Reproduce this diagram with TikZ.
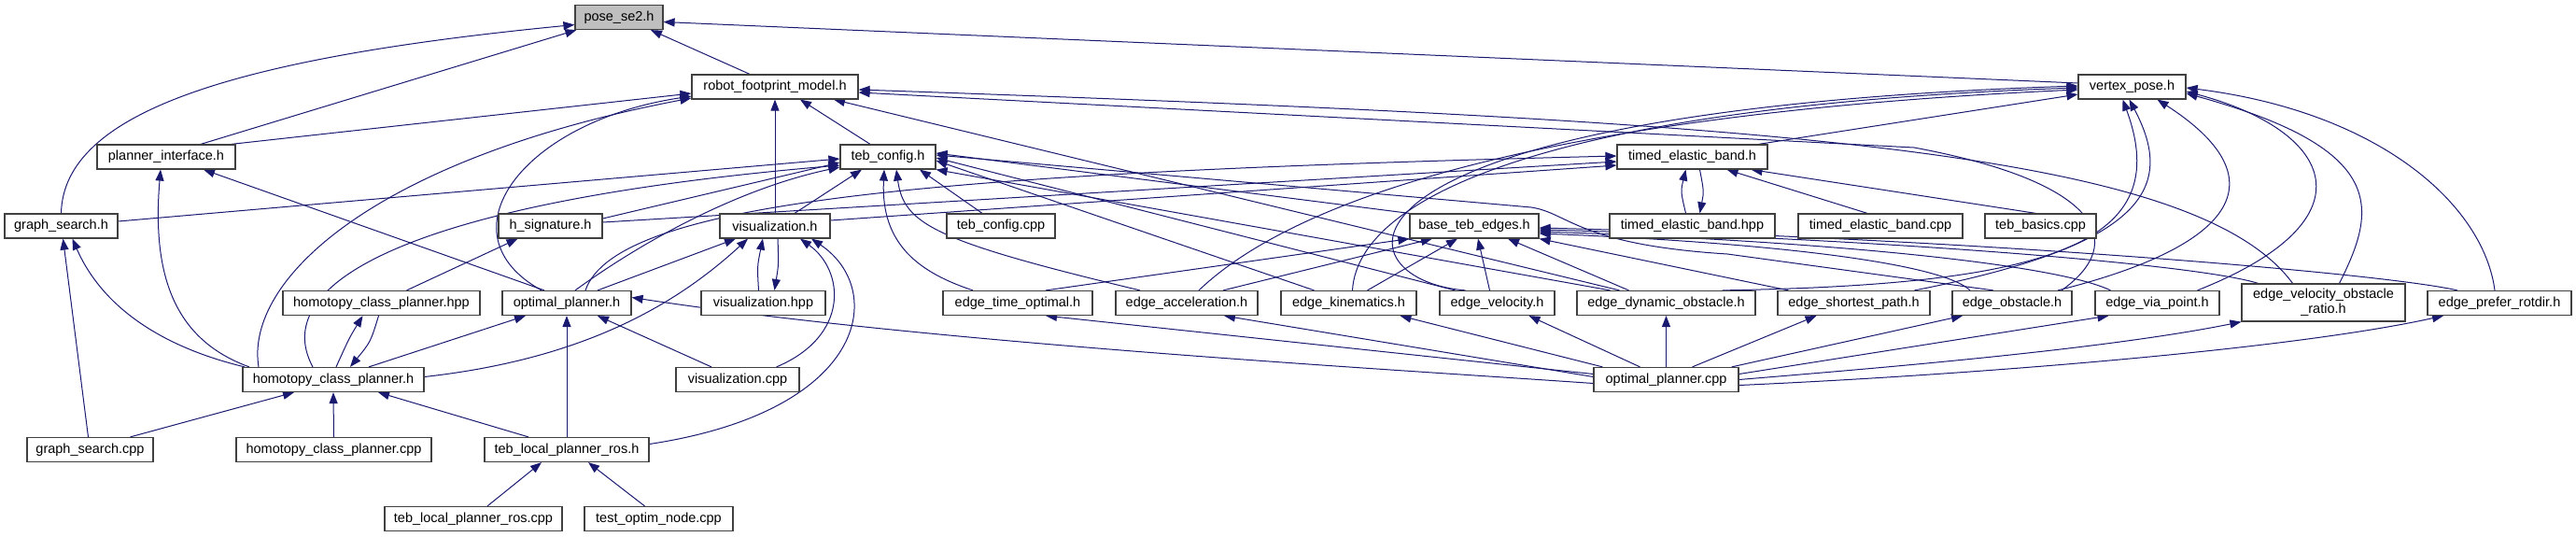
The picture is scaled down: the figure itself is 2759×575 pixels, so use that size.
\documentclass[tikz,border=0pt]{standalone}
\usepackage{fontspec}
\setmainfont{Liberation Sans}
\usetikzlibrary{arrows.meta,backgrounds}
\definecolor{edgeblue}{HTML}{191970}
\definecolor{boxline}{HTML}{404040}
\definecolor{rootfill}{HTML}{BFBFBF}
\tikzset{
  file/.style={draw=boxline,line width=1.2pt,fill=white,inner sep=0pt,minimum height=26pt,font=\fontsize{14.5}{16}\selectfont},
  dep/.style={draw=edgeblue,line width=1pt,{Triangle[length=12pt,width=9pt]}-}
}
\begin{document}
\begin{tikzpicture}[x=1pt,y=-1pt]
\useasboundingbox (0,0) rectangle (2759,575);

\node[file,fill=rootfill,minimum width=94pt] (pose) at (663,18.5) {pose\_se2.h};
\foreach \n/\x/\y/\w/\t in {
  rfm/830/93/178/{robot\_footprint\_model.h},
  vpose/2283.5/93/115/{vertex\_pose.h},
  pif/178/168/148/{planner\_interface.h},
  tcfg/951/168/102/{teb\_config.h},
  teb/1812.5/168/161/{timed\_elastic\_band.h},
  gsh/65.5/242/121/{graph\_search.h},
  hsig/589.5/242/111/{h\_signature.h},
  vis/830/242/118/{visualization.h},
  tcfgcpp/1072/242/116/{teb\_config.cpp},
  bte/1579/242/138/{base\_teb\_edges.h},
  tebhpp/1812.5/242/177/{timed\_elastic\_band.hpp},
  tebcpp/2014/242/176/{timed\_elastic\_band.cpp},
  tbasics/2185.5/242/119/{teb\_basics.cpp},
  hcphpp/408.5/324.5/211/{homotopy\_class\_planner.hpp},
  opth/607/324.5/138/{optimal\_planner.h},
  vishpp/817.5/324.5/133/{visualization.hpp},
  eto/1090/324.5/160/{edge\_time\_optimal.h},
  eacc/1271/324.5/152/{edge\_acceleration.h},
  ekin/1444.5/324.5/145/{edge\_kinematics.h},
  evel/1603.5/324.5/123/{edge\_velocity.h},
  edyn/1784.5/324.5/191/{edge\_dynamic\_obstacle.h},
  esp/1985.5/324.5/163/{edge\_shortest\_path.h},
  eobs/2155/324.5/128/{edge\_obstacle.h},
  evia/2310.5/324.5/133/{edge\_via\_point.h},
  epref/2677/324.5/154/{edge\_prefer\_rotdir.h},
  hcph/357/406.5/194/{homotopy\_class\_planner.h},
  viscpp/790/406.5/132/{visualization.cpp},
  optcpp/1784.5/406.5/155/{optimal\_planner.cpp},
  gscpp/96.5/481.5/135/{graph\_search.cpp},
  hcpcpp/357.5/481.5/209/{homotopy\_class\_planner.cpp},
  tlpr/607/481.5/176/{teb\_local\_planner\_ros.h},
  tlprcpp/507/555.5/190/{teb\_local\_planner\_ros.cpp},
  toptim/705.5/555.5/159/{test\_optim\_node.cpp}}
  \node[file,minimum width=\w pt] (\n) at (\x,\y) {\t};
\node[file,minimum width=175pt,minimum height=40pt,align=center] (evor) at (2488.5,324) {edge\_velocity\_obstacle\\\_ratio.h};

\begin{scope}[on background layer]
\foreach \a/\ax/\ay/\b/\bx/\by in {
  pose.south/34/0/rfm.north/-27/0,
  pose.south west/2/0/pif.north/37/0,
  pose.east/0/5/vpose.west/0/-4,
  rfm.west/0/7/pif.north east/-5/0,
  rfm.south/27/0/tcfg.north/-19/0,
  rfm.south/0/0/vis.north/0/0,
  rfm.south/63/0/edyn.north/-50/0,
  tcfg.south/-28/0/vis.north/21/0,
  tcfg.south/34/0/tcfgcpp.north/-20/0,
  tcfg.west/0/2/gsh.east/0/-5,
  tcfg.west/0/6/hsig.east/0/-8,
  tcfg.east/0/-4/bte.north west/0/0,
  tcfg.east/0/4/ekin.north/-37/0,
  tcfg.east/0/1/evel.north/-45/0,
  tcfg.south east/0/0/edyn.north/-60/0,
  teb.west/0/5/hsig.east/0/-4,
  teb.west/0/9/vis.east/0/-6,
  teb.south/37/0/tebcpp.north/-14/0,
  teb.south/63/0/tbasics.north/-5/0,
  vpose.west/0/8/teb.north east/-10/0,
  hsig.south/-35/0/hcphpp.north/27/0,
  pif.south/40/0/opth.north/-24/0,
  vis.south/-42/0/opth.north/33/0,
  opth.south/-44/0/hcph.north/38/0,
  opth.south/33/0/viscpp.north/-28/0,
  opth.south/0/0/tlpr.north/0/0,
  hcph.south/48/0/tlpr.north/-41/0,
  hcph.south/-42/0/gscpp.north/43/0,
  hcph.south/0/0/hcpcpp.north/0/0,
  gsh.south/2/0/gscpp.north/-2/0,
  tlpr.south/-27/0/tlprcpp.north/15/0,
  tlpr.south/23/0/toptim.north/-15/0,
  bte.south west/0/0/eto.north/30/0,
  bte.south/-45/0/eacc.north/39/0,
  bte.south/-18/0/ekin.north/20/0,
  bte.south/4/0/evel.north/-8/0,
  bte.south/36/0/edyn.north/-40/0,
  bte.south east/0/0/esp.north/-70/0,
  eto.south/30/0/optcpp.west/0/-6,
  eacc.south/40/0/optcpp.west/0/-3,
  ekin.south/55/0/optcpp.north west/10/0,
  evel.south/34/0/optcpp.north/-28/0,
  edyn.south/0/0/optcpp.north/0/0,
  esp.south/-40/0/optcpp.north/28/0,
  eobs.south/-53/0/optcpp.north east/-8/0,
  evia.south/-52/0/optcpp.east/0/-6}
  \draw[dep] ([shift={(\ax,\ay)}]\a) -- ([shift={(\bx,\by)}]\b);

\draw[dep] ([shift={(0,8)}]pose.west) .. controls (250,62) and (68,120) .. (gsh.north);
\draw[dep] ([shift={(0,10)}]rfm.west) .. controls (560,130) and (470,250) .. ([shift={(-27,0)}]opth.north);
\draw[dep] ([shift={(0,12)}]rfm.west) .. controls (400,170) and (262,300) .. ([shift={(-80,0)}]hcph.north);
\draw[dep] ([shift={(0,9)}]tcfg.west) .. controls (450,215) and (285,300) .. ([shift={(-22,0)}]hcph.north);
\draw[dep] ([shift={(0,11)}]tcfg.west) .. controls (800,200) and (700,250) .. ([shift={(9,0)}]opth.north);
\draw[dep] ([shift={(-6,0)}]pif.south) .. controls (162,300) and (190,365) .. ([shift={(-90,0)}]hcph.north);
\draw[dep] ([shift={(12,0)}]gsh.south) .. controls (110,330) and (175,372) .. ([shift={(-95,0)}]hcph.north);
\draw[dep] ([shift={(-20,0)}]hcphpp.south) .. controls (374,362) .. ([shift={(3,0)}]hcph.north);
\draw[dep] ([shift={(18,0)}]hcph.north) .. controls (397,366) .. ([shift={(-3,0)}]hcphpp.south);
\draw[dep] ([shift={(-29,0)}]vis.south) .. controls (720,330) and (620,385) .. ([shift={(0,-3)}]hcph.east);
\draw[dep] ([shift={(-13,0)}]vis.south) .. controls (811,285) .. ([shift={(-5,0)}]vishpp.north);
\draw[dep] ([shift={(12,0)}]vishpp.north) .. controls (834,283) .. ([shift={(3,0)}]vis.south);
\draw[dep] ([shift={(27,0)}]vis.south) .. controls (905,290) and (910,360) .. ([shift={(-25,0)}]viscpp.north east);
\draw[dep] ([shift={(39,0)}]vis.south) .. controls (950,310) and (930,440) .. ([shift={(0,-6)}]tlpr.east);
\draw[dep] ([shift={(0,-1)}]teb.west) .. controls (1000,185) and (660,215) .. ([shift={(20,0)}]opth.north);
\draw[dep] ([shift={(0,-6)}]opth.east) .. controls (1000,368) and (1500,396) .. ([shift={(0,4)}]optcpp.west);
\draw[dep] ([shift={(-7,0)}]teb.south) .. controls (1800,205) .. ([shift={(-7,0)}]tebhpp.north);
\draw[dep] ([shift={(8,0)}]tebhpp.north) .. controls (1825,205) .. ([shift={(8,0)}]teb.south);
\draw[dep] ([shift={(9,0)}]tcfg.south) .. controls (968,240) and (1000,258) .. ([shift={(-50,0)}]eacc.north);
\draw[dep] ([shift={(-4,0)}]tcfg.south) .. controls (943,262) and (985,292) .. ([shift={(-48,0)}]eto.north);
\draw[dep] ([shift={(0,-2)}]tcfg.east) -- (1640,222) .. controls (1680,228) and (1690,262) .. (1850,272) -- ([shift={(-20,0)}]eobs.north);

\draw[dep] ([shift={(0,3)}]vpose.west) .. controls (1700,120) and (1400,200) .. ([shift={(13,0)}]eacc.north);
\draw[dep] ([shift={(0,1)}]vpose.west) .. controls (1700,112) and (1455,200) .. ([shift={(4,0)}]ekin.north);
\draw[dep] ([shift={(0,-1)}]vpose.west) .. controls (1390,120) and (1430,300) .. ([shift={(-34,0)}]evel.north);
\draw[dep] ([shift={(-10,0)}]vpose.south) .. controls (2330,260) and (2200,305) .. ([shift={(60,0)}]edyn.north);
\draw[dep] ([shift={(-3,0)}]vpose.south) .. controls (2330,200) and (2300,262) .. ([shift={(65,0)}]esp.north);
\draw[dep] ([shift={(27,0)}]vpose.south) .. controls (2440,190) and (2400,262) .. ([shift={(49,0)}]eobs.north);
\draw[dep] ([shift={(0,5)}]vpose.east) .. controls (2500,140) and (2545,235) .. ([shift={(43,0)}]evia.north);
\draw[dep] ([shift={(0,7)}]vpose.east) .. controls (2560,160) and (2545,225) .. ([shift={(17,0)}]evor.north);
\draw[dep] ([shift={(0,1)}]vpose.east) .. controls (2550,120) and (2660,220) .. ([shift={(-5,0)}]epref.north);

\draw[dep] ([shift={(0,6)}]rfm.east) -- (2050,158) .. controls (2250,195) and (2280,260) .. ([shift={(53,0)}]eobs.north);
\draw[dep] ([shift={(0,3)}]rfm.east) .. controls (1900,130) and (2350,160) .. ([shift={(-33,0)}]evor.north);

\draw[dep] ([shift={(0,8)}]bte.east) .. controls (1900,260) and (2080,282) .. ([shift={(-45,0)}]eobs.north);
\draw[dep] ([shift={(0,6)}]bte.east) .. controls (1950,258) and (2200,282) .. ([shift={(-50,0)}]evia.north);
\draw[dep] ([shift={(0,4)}]bte.east) .. controls (2000,255) and (2350,282) .. ([shift={(-70,0)}]evor.north);
\draw[dep] ([shift={(0,2)}]bte.east) .. controls (2100,255) and (2550,292) .. ([shift={(-45,0)}]epref.north);

\draw[dep] (evor.south west) .. controls (2250,375) and (2000,395) .. (optcpp.east);
\draw[dep] ([shift={(-60,0)}]epref.south) .. controls (2450,375) and (2100,402) .. ([shift={(0,6)}]optcpp.east);
\end{scope}

\end{tikzpicture}
\end{document}
